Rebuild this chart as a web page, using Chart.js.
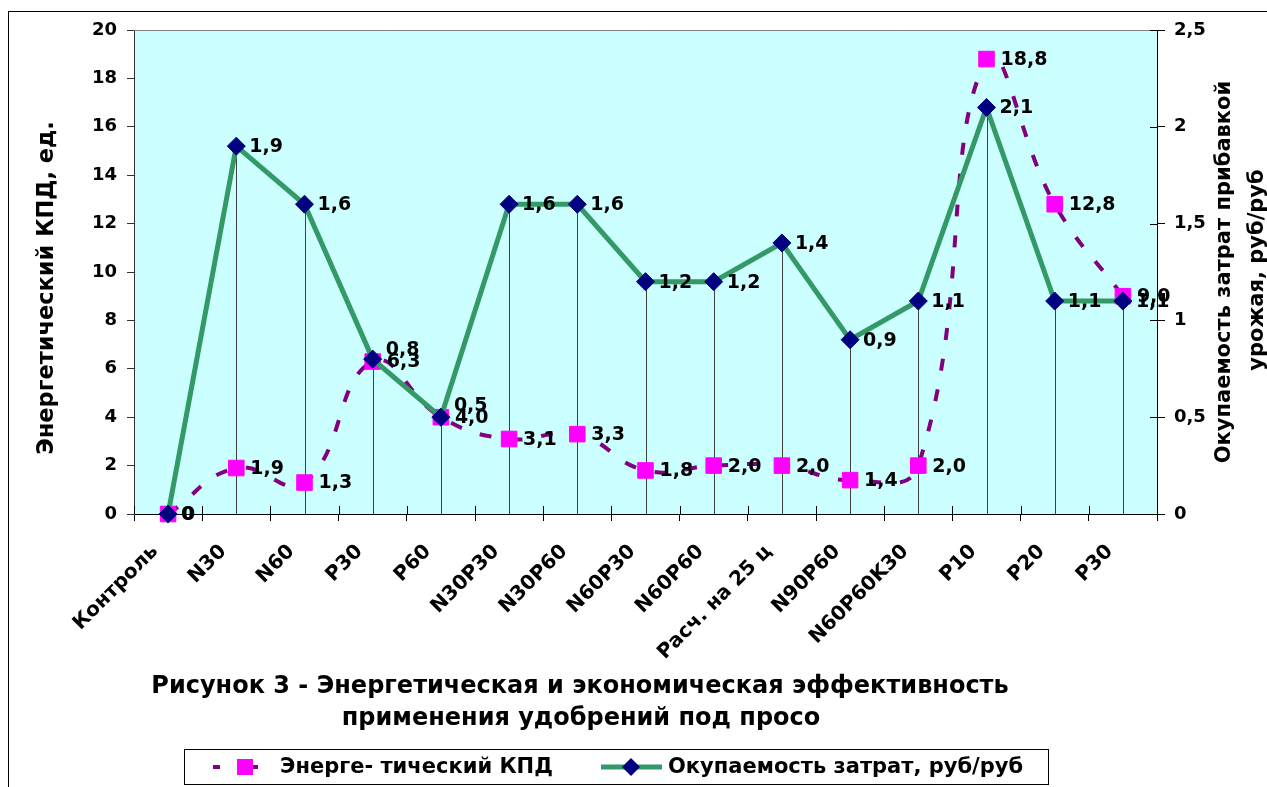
<!DOCTYPE html>
<html><head><meta charset="utf-8">
<script src="https://cdn.jsdelivr.net/npm/chart.js@4.4.1/dist/chart.umd.min.js"></script>
<style>
html,body{margin:0;padding:0;background:#fff;overflow:hidden;}
#wrap{position:relative;width:1267px;height:787px;overflow:hidden;}
#frame{position:absolute;left:8px;top:11px;width:1400px;height:900px;border:1px solid #000;box-sizing:border-box;}
canvas{position:absolute;left:0;top:0;}
</style></head><body>
<div id="wrap"><div id="frame"></div><canvas id="c" width="1267" height="787"></canvas></div>
<script>
const categories = ['Контроль','N30','N60','P30','P60','N30P30','N30P60','N60P30','N60P60','Расч. на 25 ц','N90P60','N60P60K30','P10','P20','P30'];
const energyKPD = [0, 1.9, 1.3, 6.3, 4.0, 3.1, 3.3, 1.8, 2.0, 2.0, 1.4, 2.0, 18.8, 12.8, 9.0];
const payback   = [0, 1.9, 1.6, 0.8, 0.5, 1.6, 1.6, 1.2, 1.2, 1.4, 0.9, 1.1, 2.1, 1.1, 1.1];
const leftTickLabels  = ['0','2','4','6','8','10','12','14','16','18','20'];
const rightTickLabels = ['0','0,5','1','1,5','2','2,5'];
const seriesNames = ['Энерге- тический КПД', 'Окупаемость затрат, руб/руб'];
const titleLines = ['Рисунок 3 - Энергетическая и экономическая эффективность', 'применения удобрений под просо'];
const leftTitle = 'Энергетический КПД, ед.';
const rightTitle = ['Окупаемость затрат прибавкой', 'урожая, руб/руб'];

const FONT = '"DejaVu Sans", sans-serif';
const fmt = v => v === 0 ? '0' : v.toFixed(1).replace('.', ',');
const labelNudge = {3: -10, 4: -12}; // manual label placement of the payback series in the original

const custom = {
  id: 'custom',
  beforeDraw(chart) {
    const {ctx, chartArea: a} = chart;
    ctx.save();
    ctx.fillStyle = '#CCFFFF';
    ctx.fillRect(a.left, a.top, a.right - a.left, a.bottom - a.top);
    ctx.restore();
  },
  beforeDatasetsDraw(chart) {
    const {ctx, chartArea: a, scales} = chart;
    ctx.save();
    ctx.strokeStyle = '#808080'; ctx.lineWidth = 1;
    ctx.beginPath(); ctx.moveTo(a.left, Math.round(a.top) + 0.5); ctx.lineTo(a.right, Math.round(a.top) + 0.5); ctx.stroke();
    const meta = chart.getDatasetMeta(1);
    ctx.strokeStyle = '#404040';
    meta.data.forEach((p, i) => {
      if (payback[i] > 0) {
        const x = Math.round(p.x) + 0.5;
        ctx.beginPath(); ctx.moveTo(x, p.y); ctx.lineTo(x, a.bottom); ctx.stroke();
      }
    });
    ctx.strokeStyle = '#000';
    const xs = scales.x;
    const half = (xs.getPixelForValue(1) - xs.getPixelForValue(0)) / 2;
    for (let i = 0; i <= categories.length; i++) {
      const x = Math.round(xs.getPixelForValue(i) - half) + 0.5;
      ctx.beginPath(); ctx.moveTo(x, a.bottom); ctx.lineTo(x, a.bottom - 8); ctx.stroke();
    }
    const ys = scales.y1;
    ys.ticks.forEach(t => {
      const y = Math.round(ys.getPixelForValue(t.value)) + 0.5;
      ctx.beginPath(); ctx.moveTo(a.right, y); ctx.lineTo(a.right - 7, y); ctx.stroke();
    });
    ctx.restore();
  },
  afterDatasetsDraw(chart) {
    const {ctx} = chart;
    ctx.save();
    ctx.font = 'bold 19px ' + FONT;
    ctx.fillStyle = '#000';
    ctx.textAlign = 'left';
    ctx.textBaseline = 'middle';
    chart.getDatasetMeta(0).data.forEach((p, i) => {
      ctx.fillText(fmt(energyKPD[i]), p.x + 14, p.y + 1);
    });
    chart.getDatasetMeta(1).data.forEach((p, i) => {
      ctx.fillText(fmt(payback[i]), p.x + 13, p.y + 1 + (labelNudge[i] || 0));
    });
    ctx.restore();
  },
  afterDraw(chart) {
    const {ctx} = chart;
    ctx.save();
    ctx.fillStyle = '#000';
    ctx.font = 'bold 24px ' + FONT;
    ctx.textAlign = 'center'; ctx.textBaseline = 'middle';
    ctx.fillText(titleLines[0], 580, 687);
    ctx.fillText(titleLines[1], 581, 719);
    ctx.font = 'bold 22.5px ' + FONT;
    ctx.save(); ctx.translate(47, 288); ctx.rotate(-Math.PI / 2); ctx.fillText(leftTitle, 0, 0); ctx.restore();
    ctx.font = 'bold 21px ' + FONT;
    ctx.save(); ctx.translate(1225, 272); ctx.rotate(-Math.PI / 2); ctx.fillText(rightTitle[0], 0, 0); ctx.restore();
    ctx.save(); ctx.translate(1258, 270); ctx.rotate(-Math.PI / 2); ctx.fillText(rightTitle[1], 0, 0); ctx.restore();
    ctx.strokeStyle = '#000'; ctx.lineWidth = 1;
    ctx.strokeRect(184.5, 749.5, 864, 35);
    const ly = 767;
    ctx.strokeStyle = '#800080'; ctx.lineWidth = 4;
    ctx.beginPath(); ctx.moveTo(213, ly); ctx.lineTo(220, ly); ctx.moveTo(251, ly); ctx.lineTo(258, ly); ctx.stroke();
    ctx.fillStyle = '#FF00FF';
    ctx.fillRect(237, ly - 8, 16, 16);
    ctx.strokeStyle = '#339966'; ctx.lineWidth = 5;
    ctx.beginPath(); ctx.moveTo(601, ly); ctx.lineTo(662, ly); ctx.stroke();
    ctx.fillStyle = '#000080';
    ctx.beginPath(); ctx.moveTo(631, ly - 9); ctx.lineTo(640, ly); ctx.lineTo(631, ly + 9); ctx.lineTo(622, ly); ctx.closePath(); ctx.fill();
    ctx.fillStyle = '#000';
    ctx.font = 'bold 21px ' + FONT;
    ctx.textAlign = 'left';
    ctx.fillText(seriesNames[0], 280, ly + 1);
    ctx.fillText(seriesNames[1], 668, ly + 1);
    ctx.restore();
  }
};

const tickFont = {family: FONT, size: 18, weight: 'bold'};

new Chart(document.getElementById('c'), {
  type: 'line',
  data: {
    labels: categories,
    datasets: [
      {
        label: seriesNames[0], data: energyKPD, yAxisID: 'y',
        borderColor: '#800080', borderWidth: 4, borderDash: [12, 19], borderCapStyle: 'butt',
        tension: 0.45, fill: false, clip: false,
        pointStyle: 'rect', pointRadius: 11, pointBackgroundColor: '#FF00FF', pointBorderColor: '#FF00FF', pointBorderWidth: 1,
        order: 1
      },
      {
        label: seriesNames[1], data: payback, yAxisID: 'y1',
        borderColor: '#339966', borderWidth: 5, tension: 0, fill: false, clip: false,
        pointStyle: 'rectRot', pointRadius: 9, pointBackgroundColor: '#000080', pointBorderColor: '#000080', pointBorderWidth: 1,
        order: 0
      }
    ]
  },
  options: {
    responsive: false, animation: false, devicePixelRatio: 1,
    layout: {padding: {left: 0, right: 0, top: 30, bottom: 0}},
    plugins: {legend: {display: false}, title: {display: false}, tooltip: {enabled: false}},
    scales: {
      x: {
        type: 'category', offset: true,
        grid: {display: true, drawOnChartArea: false, drawTicks: true, tickLength: 7, color: '#000', offset: true},
        border: {display: true, color: '#000', width: 1},
        ticks: {autoSkip: false, maxRotation: 45, minRotation: 45, color: '#000',
                font: {family: FONT, size: 20, weight: 'bold'}, padding: 19, labelOffset: -13},
        afterFit(s) { s.height = 787 - 514; }
      },
      y: {
        position: 'left', min: 0, max: 20,
        grid: {drawOnChartArea: false, drawTicks: true, tickLength: 7, color: '#333'},
        border: {display: true, color: '#333', width: 1},
        ticks: {stepSize: 2, color: '#000', font: tickFont, padding: 10, callback: (v, i) => leftTickLabels[i]},
        afterFit(s) { s.width = 134; }
      },
      y1: {
        position: 'right', min: 0, max: 2.5,
        grid: {drawOnChartArea: false, drawTicks: true, tickLength: 8, color: '#000'},
        border: {display: true, color: '#000', width: 1},
        ticks: {stepSize: 0.5, color: '#000', font: tickFont, padding: 9, callback: (v, i) => rightTickLabels[i]},
        afterFit(s) { s.width = 1267 - 1157; }
      }
    }
  },
  plugins: [custom]
});
</script>
</body></html>
